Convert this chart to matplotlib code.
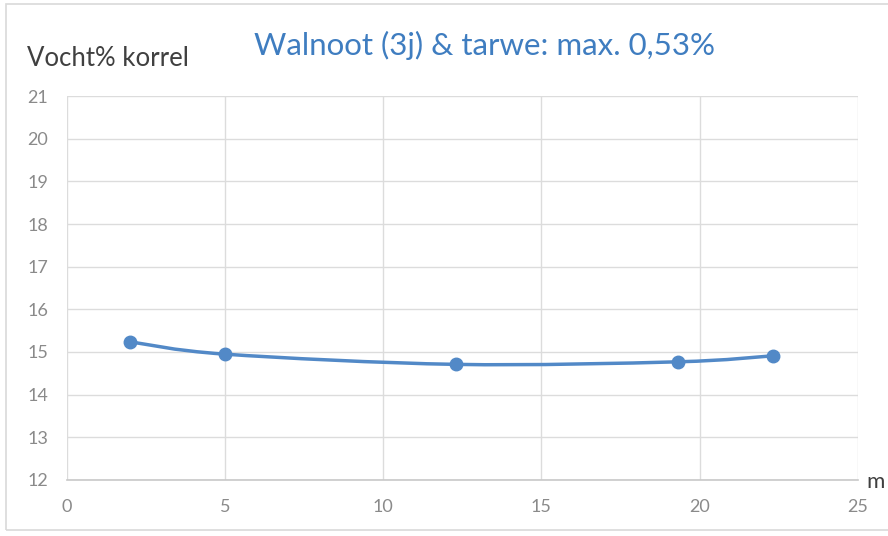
import matplotlib
matplotlib.use("Agg")
import matplotlib.pyplot as plt
import numpy as np
from matplotlib.path import Path
from matplotlib.patches import PathPatch, Rectangle

x_vals = [2.0, 5.0, 12.3, 19.3, 22.3]
y_vals = [15.24, 14.95, 14.71, 14.77, 14.91]
x_ticks = [0, 5, 10, 15, 20, 25]
y_ticks = [12, 13, 14, 15, 16, 17, 18, 19, 20, 21]
title = "Walnoot (3j) & tarwe: max. 0,53%"
y_label = "Vocht% korrel"
x_label = "m"

plt.rcParams['font.family'] = ['Lato', 'DejaVu Sans']

W, H = 888, 536
fig = plt.figure(figsize=(W / 100, H / 100), dpi=100)
ax = fig.add_axes([66.5 / W, 1 - 480 / H, (858 - 66.5) / W, (480 - 96) / H])

ax.set_xlim(0, 25)
ax.set_ylim(12, 21)
ax.set_xticks(x_ticks)
ax.set_yticks(y_ticks)
ax.grid(True, color='#dcdcdc', linewidth=1)
ax.set_axisbelow(True)
for s in ['top', 'right', 'left']:
    ax.spines[s].set_visible(False)
ax.spines['bottom'].set_color('#c8c8c8')
ax.spines['bottom'].set_linewidth(1.2)
ax.tick_params(length=0, labelsize=13, labelcolor='#8a8a8a', pad=14)
ax.tick_params(axis='y', pad=13)

# Smoothed line (Catmull-Rom style Bezier, like spreadsheet smoothing)
pts = np.column_stack([x_vals, y_vals])
n = len(pts)
verts = [tuple(pts[0])]
codes = [Path.MOVETO]
for i in range(n - 1):
    p0 = pts[max(i - 1, 0)]
    p1 = pts[i]
    p2 = pts[i + 1]
    p3 = pts[min(i + 2, n - 1)]
    c1 = p1 + (p2 - p0) / 6.0
    c2 = p2 - (p3 - p1) / 6.0
    verts += [tuple(c1), tuple(c2), tuple(p2)]
    codes += [Path.CURVE4] * 3
ax.add_patch(PathPatch(Path(verts, codes), facecolor='none', edgecolor='#5289c7', linewidth=2.5, zorder=3))
ax.plot(x_vals, y_vals, 'o', color='#5289c7', markersize=9, zorder=4, clip_on=False)

fig.text(27 / W, 1 - 58 / H, y_label, fontsize=18.5, color='#404040', va='center', ha='left')
fig.text(484 / W, 1 - 45 / H, title, fontsize=22.5, color='#3f7dc0', va='center', ha='center')
fig.text(866 / W, 1 - 482 / H, x_label, fontsize=16, color='#404040', va='center', ha='left')

fig.add_artist(Rectangle((6 / W, 6 / H), 1.2, 1 - 10 / H, transform=fig.transFigure,
                         fill=False, edgecolor='#d9d9d9', linewidth=1.2))

fig.savefig("out.png", dpi=100, facecolor='white')
